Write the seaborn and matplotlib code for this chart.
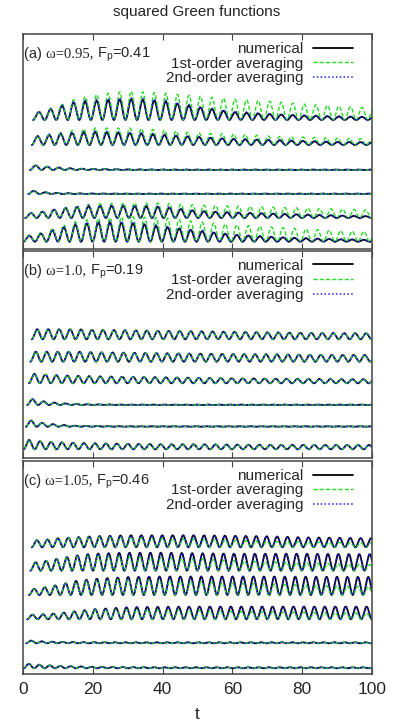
import numpy as np
import pandas as pd
import matplotlib
matplotlib.use('Agg')
import matplotlib.pyplot as plt
from matplotlib.lines import Line2D
from matplotlib.offsetbox import AnchoredOffsetbox, HPacker, TextArea
import seaborn as sns

# ---------------------------------------------------------------------------
# values
# ---------------------------------------------------------------------------
methods = ['numerical', '1st-order averaging', '2nd-order averaging']
omegas = [0.95, 1.0, 1.05]
panel_tags = ['(a) ', '(b) ', '(c) ']
omega_texts = ['\u03c9=0.95, ', '\u03c9=1.0, ', '\u03c9=1.05, ']
force_texts = [r'F$_\mathregular{p}$=0.41', r'F$_\mathregular{p}$=0.19',
               r'F$_\mathregular{p}$=0.46']
xticks = [0, 20, 40, 60, 80, 100]

# times at which the envelope of each squared Green function was read
env_t = [0, 5, 10, 15, 20, 30, 40, 50, 60, 70, 80, 90, 100]

# panel (a): trough level (offset), start time, envelopes
base_a = [129, 104, 79, 55, 31, 7.3]
start_a = [2.9, 2.5, 2.0, 1.5, 0.6, 0.1]
num_a = [[8, 8, 13, 18, 19, 21, 19, 13, 8, 6, 4.5, 3.5, 3],
         [8, 9, 11, 12, 13, 12, 10, 8, 6, 5, 4, 3, 2.7],
         [6, 4, 2.5, 1.5, 1, 0.6, 0.5, 0.4, 0.4, 0.4, 0.4, 0.4, 0.4],
         [5, 2, 1, 0.6, 0.5, 0.4, 0.4, 0.4, 0.4, 0.4, 0.4, 0.4, 0.4],
         [4, 6, 9, 11, 12, 12, 11, 7, 5.5, 4.5, 3.5, 2.5, 1.7],
         [5, 8, 13, 17, 19, 19, 15, 11, 7, 5, 3.5, 2.5, 1.7]]
first_a = [[8, 8, 14, 21, 25, 29, 27, 24, 21, 19, 16, 14, 12],
           [8, 9, 12, 15, 17, 17, 15, 12, 11, 9, 8, 7, 6],
           [6, 4, 2.5, 1.5, 1, 0.6, 0.5, 0.4, 0.4, 0.4, 0.4, 0.4, 0.4],
           [5, 2, 1, 0.6, 0.5, 0.4, 0.4, 0.4, 0.4, 0.4, 0.4, 0.4, 0.4],
           [4, 6, 9, 12, 14, 15, 15, 13, 12, 11, 10, 9, 8],
           [5, 9, 15, 20, 23, 25, 24, 20, 17, 15, 13, 11, 10]]
second_a = [[8, 8.5, 14, 19, 20.5, 22.5, 20.5, 14, 9, 6.5, 5, 4, 3.3],
            [8, 9.5, 12, 13, 14, 13, 11, 8.5, 6.5, 5.5, 4.4, 3.3, 3],
            [6, 4, 2.5, 1.5, 1, 0.6, 0.5, 0.4, 0.4, 0.4, 0.4, 0.4, 0.4],
            [5, 2, 1, 0.6, 0.5, 0.4, 0.4, 0.4, 0.4, 0.4, 0.4, 0.4, 0.4],
            [4, 6.5, 9.5, 12, 13, 13, 12, 7.5, 6, 5, 3.8, 2.8, 2],
            [5, 8.5, 14, 18, 20.5, 20.5, 16, 12, 7.5, 5.5, 3.8, 2.8, 2]]

# panel (b): all three methods coincide
base_b = [118.7, 96.3, 74.7, 53, 31.3, 8.7]
start_b = [2.5, 2.1, 1.7, 1.2, 0.8, 0.2]
num_b = [[10, 10, 10, 10, 9.5, 9, 8.5, 8, 7.5, 7, 6.5, 6.2, 6],
         [10, 10, 10, 10, 9.5, 9, 8.5, 8, 7.7, 7.4, 7, 6.8, 6.7],
         [10, 9, 8, 7.5, 7, 6.5, 6, 5.5, 5, 4.7, 4.4, 4.2, 4],
         [8, 4, 2, 1, 0.6, 0.4, 0.4, 0.4, 0.4, 0.4, 0.4, 0.4, 0.4],
         [8, 4, 2, 1, 0.6, 0.4, 0.4, 0.4, 0.4, 0.4, 0.4, 0.4, 0.4],
         [10, 8, 7, 6.5, 6, 5.5, 5, 5, 4.7, 4.5, 4.4, 4.3, 4.3]]
first_b = num_b
second_b = num_b

# panel (c)
base_c = [126.7, 103.3, 79, 54.7, 30.7, 5.7]
start_c = [2.5, 2.1, 1.7, 1.2, 0.9, 0.2]
num_c = [[7, 7, 9, 10, 11, 12, 12, 12, 11.5, 11, 10, 9.5, 9],
         [7, 9, 12, 15, 17, 18, 18, 17.5, 17, 17, 17, 16.7, 16.5],
         [5, 7, 10, 14, 16, 18, 18.5, 18.5, 18.5, 18.5, 18.3, 18.2, 18],
         [4.3, 5, 6, 8, 10, 12, 12.5, 12.7, 12.7, 12.7, 12.7, 12.7, 12.7],
         [3.3, 2, 1.5, 1.2, 1.1, 1, 1, 1, 1, 1, 1, 1, 1],
         [5, 3.5, 2.5, 2, 1.5, 1.2, 1, 1, 1, 1, 1, 1, 1]]
first_c = [[7, 7, 9, 10, 10.5, 10, 9, 8, 7, 6, 5.5, 5, 4.5],
           [7, 9, 12, 14, 15, 14, 13, 12, 10, 9, 8, 7, 6],
           [5, 7, 10, 13, 15, 16, 15, 13.5, 12, 11, 10, 9, 8.5],
           [4.3, 5, 6, 8, 9.5, 10, 9.5, 9, 8, 7.5, 7, 6.5, 6],
           [3.3, 2, 1.5, 1.2, 1.1, 1, 1, 1, 1, 1, 1, 1, 1],
           [5, 3.5, 2.5, 2, 1.5, 1.2, 1, 1, 1, 1, 1, 1, 1]]
second_c = num_c

panels = [(base_a, start_a, [num_a, first_a, second_a]),
          (base_b, start_b, [num_b, first_b, second_b]),
          (base_c, start_c, [num_c, first_c, second_c])]

# ---------------------------------------------------------------------------
# styling
# ---------------------------------------------------------------------------
sns.set_theme(style='white')
plt.rcParams['font.family'] = ['Liberation Sans', 'DejaVu Sans']

palette = {'numerical': '#000000', '1st-order averaging': '#22dd22',
           '2nd-order averaging': '#2222ff'}
dashes = {'numerical': '', '1st-order averaging': (3, 1.5),
          '2nd-order averaging': (1, 1.5)}
widths = {'numerical': 1.3, '1st-order averaging': 1.0,
          '2nd-order averaging': 1.1}
frame_color = '#444444'

# axes rectangles in pixels: (top, bottom) on a 400 x 724 canvas
W, H = 400, 724
left_px, right_px = 23, 372
rows_px = [(34, 249), (251, 458), (461, 674)]

fig = plt.figure(figsize=(W / 100, H / 100), dpi=100)
fig.text(197 / W, 1 - 12 / H, 'squared Green functions', ha='center',
         va='center', fontsize=11, color='#222222')

for k, (base, start, envs) in enumerate(panels):
    top, bot = rows_px[k]
    ax = fig.add_axes([left_px / W, 1 - bot / H, (right_px - left_px) / W,
                       (bot - top) / H])
    height = bot - top

    # build long table of the squared Green functions
    frames = []
    for m, method in enumerate(methods):
        for c in range(6):
            t = np.arange(start[c], 100.0001, 0.05)
            amp = np.interp(t, env_t, envs[m][c])
            y = base[c] + amp * np.sin(omegas[k] * (t - start[c])) ** 2
            frames.append(pd.DataFrame({'t': t, 'g2': y, 'curve': c,
                                        'method': method}))
    df = pd.concat(frames, ignore_index=True)

    for method in methods:
        sub = df[df['method'] == method]
        sns.lineplot(data=sub, x='t', y='g2', units='curve', estimator=None,
                     ax=ax, color=palette[method], linewidth=widths[method],
                     dashes=False, legend=False, sort=False)
        if dashes[method]:
            for line in ax.lines[-6:]:
                line.set_dashes(dashes[method])

    ax.set_xlim(0, 100)
    ax.set_ylim(0, height)
    ax.set_yticks([])
    ax.set_xticks(xticks)
    ax.set_ylabel('')
    ax.tick_params(axis='x', direction='in', length=4, width=0.8,
                   top=True, bottom=True, color=frame_color,
                   labelsize=12.5, pad=6)
    for spine in ax.spines.values():
        spine.set_color(frame_color)
        spine.set_linewidth(1.1)
    if k < 2:
        ax.set_xlabel('')
        ax.tick_params(axis='x', labelbottom=False)
    else:
        ax.set_xlabel('t', fontsize=12.5, labelpad=7)

    handles = [Line2D([], [], color=palette[m], linewidth=widths[m],
                      dashes=dashes[m] if dashes[m] else (None, None))
               for m in methods]
    ax.legend(handles, methods, loc='upper right', frameon=False,
              markerfirst=False, fontsize=11, handlelength=2.6,
              handletextpad=0.65, labelspacing=0.04, borderpad=0,
              borderaxespad=0, bbox_to_anchor=(0.9456, 0.963))

    # panel label: sans tag, serif omega part, sans forcing amplitude
    label = HPacker(children=[
        TextArea(panel_tags[k], textprops=dict(fontsize=10.5)),
        TextArea(omega_texts[k], textprops=dict(fontsize=10.5,
                                                family='Liberation Serif')),
        TextArea(force_texts[k], textprops=dict(fontsize=10.5))],
        pad=0, sep=0, align='baseline')
    box = AnchoredOffsetbox(loc='center left', child=label, pad=0,
                            borderpad=0, frameon=False,
                            bbox_to_anchor=(0.003, 1 - 21 / height),
                            bbox_transform=ax.transAxes)
    ax.add_artist(box)

fig.savefig('out.png', dpi=100, facecolor='white')
